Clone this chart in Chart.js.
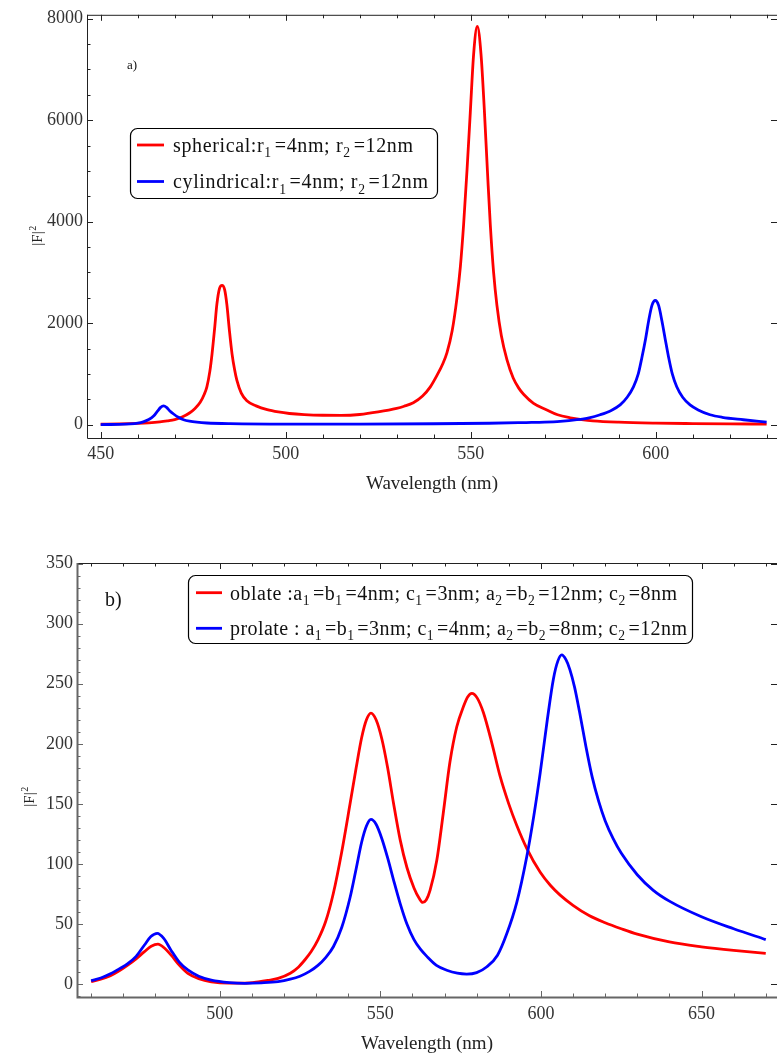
<!DOCTYPE html>
<html>
<head>
<meta charset="utf-8">
<script src="https://cdn.jsdelivr.net/npm/chart.js@4.4.0/dist/chart.umd.min.js"></script>
<style>
    html, body { margin: 0; padding: 0; background: #fff; }
    .panel { position: absolute; left: 0; width: 777px; }
    #panelA { top: 0; height: 520px; }
    #panelB { top: 520px; height: 537px; }
</style>
</head>
<body>
<div class="panel" id="panelA"><canvas id="chartA" width="777" height="520"></canvas></div>
<div class="panel" id="panelB"><canvas id="chartB" width="777" height="537"></canvas></div>
<script>
// ---- panel a) ----
const topXTicks = [450, 500, 550, 600];
const topYTicks = [0, 2000, 4000, 6000, 8000];
const topLabels = ['spherical:r₁=4nm; r₂=12nm', 'cylindrical:r₁=4nm; r₂=12nm'];

const sphericalX = [450, 455, 460, 463, 466, 468, 470, 472, 474, 475.5, 476.9, 478, 478.7, 479.5, 480.1,
    480.8, 481.4, 482.1, 482.8, 483.5, 484.1, 484.8, 485.5, 486.2, 486.8, 488, 489.5, 492, 495, 498,
    501, 505, 510, 515, 520, 525, 530, 532, 534.5, 537, 539.1, 541, 542.5, 543.6, 545, 546.3, 547.2,
    548.1, 549, 549.9, 550.8, 551.8, 552.8, 553.7, 554.6, 555.3, 556.2, 557.1, 558.3, 559.8, 561.5,
    563, 564.3, 567, 570.6, 573.5, 576.9, 580, 583, 590, 600, 610, 620, 630];
const sphericalY = [8, 14, 25, 36, 55, 75, 100, 150, 230, 320, 440, 600, 746, 1050, 1396,
    1900, 2369, 2680, 2745, 2660, 2369, 1850, 1396, 1080, 876, 620, 470, 370, 295, 250,
    220, 198, 185, 183, 200, 250, 320, 362, 432, 565, 745, 985, 1205, 1420, 1850, 2500, 3100,
    3950, 5000, 6150, 7300, 7850, 7300, 6200, 4900, 3950, 3000, 2350, 1750, 1280, 920,
    720, 600, 420, 290, 195, 136, 100, 75, 48, 30, 21, 15, 11];

const cylindricalX = [450, 455, 458, 460, 461.5, 463, 464.3, 465.3, 466.2, 467, 467.8, 468.7, 469.7, 471,
    472.4, 474, 476, 478.7, 485, 500, 520, 540, 555, 565, 570, 574.2, 578.7, 582, 585, 588, 590.4,
    592.3, 594, 595.3, 596.3, 597.3, 598.1, 599, 599.9, 600.8, 601.7, 602.6, 603.5, 604.5, 605.7,
    607.3, 609.3, 611.5, 614.7, 618, 623.7, 630];
const cylindricalY = [2, 6, 15, 30, 55, 100, 170, 260, 340, 370, 340, 270, 210, 145,
    97, 68, 48, 33, 20, 12, 12, 18, 28, 42, 50, 65, 97, 135, 195, 280, 389,
    540, 746, 1000, 1330, 1700, 2044, 2350, 2447, 2350, 2044, 1680, 1330, 1000, 746,
    540, 389, 290, 195, 145, 97, 50];

// ---- panel b) ----
const botXTicks = [500, 550, 600, 650];
const botYTicks = [0, 50, 100, 150, 200, 250, 300, 350];
const botLabels = ['oblate :a₁=b₁=4nm; c₁=3nm; a₂=b₂=12nm; c₂=8nm', 'prolate : a₁=b₁=3nm; c₁=4nm; a₂=b₂=8nm; c₂=12nm'];

const oblateX = [460, 463, 466, 469, 471.4, 474, 476.6, 478.7, 480.8, 482.8, 484.9, 487.5, 490.1, 493.5,
    497.4, 503, 507.8, 512, 515, 518.2, 522, 524.5, 526.5, 528.5, 530.6, 533, 535.4, 538, 540.6, 542.5,
    544.2, 545.7, 547.1, 548.7, 550.5, 552.3, 554.1, 556.2, 558.3, 560.5, 562.2, 563.2, 564.3, 565.5,
    567.6, 569.6, 571.7, 573.8, 575.9, 577.2, 578.5, 580.2, 582.1, 584.7, 587.3, 590, 592.5, 595.6,
    599.8, 603, 606, 610, 615, 620, 625, 630, 640, 650, 660, 670];
const oblateY = [2, 4, 7, 11.5, 15.8, 21, 27, 31.5, 33.3, 30, 24, 15.5, 8.9, 4.5,
    1.9, 0.8, 0.8, 1.8, 3, 4.7, 9, 14, 20, 27, 36.7, 52, 75.6, 110, 150, 180,
    205, 220, 225.6, 220, 204, 180, 151, 120, 97, 80, 71, 68, 70, 78,
    103, 142, 185, 214, 231, 239, 242, 238, 226, 201, 173, 150, 132, 113,
    93, 82, 74, 65.5, 57, 51, 46, 41.5, 35, 31, 28, 25.5];

const prolateX = [460, 463, 466, 469, 471.4, 474, 476.6, 478.6, 480.6, 482.6, 484.9, 487.5, 490.1, 493.5,
    497.4, 503, 507.8, 513, 518.2, 522, 525, 528, 530.6, 533, 535.4, 538, 540.6, 542.5, 544.2, 545.7,
    547.1, 548.7, 550.5, 552.3, 554.1, 556.2, 558.3, 560.5, 562.5, 564.5, 567.5, 570.7, 574, 576.9, 580,
    583.2, 586.5, 589.4, 592.5, 595.6, 597.8, 599.8, 602, 603.9, 605.3, 606.5, 607.8, 609, 610.5, 612,
    614, 616, 618, 620, 622.5, 625, 630, 635, 640, 650, 660, 670];
const prolateY = [2.8, 5, 8.5, 13, 17, 23, 32.5, 39.5, 42.2, 38, 28, 18, 11.7, 6.5,
    3.3, 1.2, 0.6, 1, 2, 4, 6.5, 10.5, 15.5, 22, 31, 47, 72, 96, 118, 131.5,
    137, 133, 121, 105, 87, 67, 50, 37, 29, 23, 15.5, 11.5, 9, 8.3, 9.5,
    14.4, 24, 42, 68, 106, 140, 176, 220, 254, 269, 274, 270, 262, 247, 227,
    198, 172, 152, 136, 121, 109, 91, 78, 69, 56, 46, 37];

const SERIF = '"Liberation Serif", "Times New Roman", serif';
const SUBS = '₀₁₂₃₄₅₆₇₈₉';
const pts = (xs, ys) => xs.map((x, i) => ({ x, y: ys[i] }));

// text with subscript digits, stretched to a target width like the Mathematica output
function drawRich(ctx, text, x, y, size, width) {
    const parts = [...text].map(ch => {
        const i = SUBS.indexOf(ch);
        return i >= 0 ? { ch: String(i), sub: true } : { ch, sub: false };
    });
    const fontOf = p => (p.sub ? size * 0.68 : size) + 'px ' + SERIF;
    const widths = parts.map(p => {
        ctx.font = fontOf(p);
        return ctx.measureText(p.ch).width + (p.sub ? size * 0.15 : 0);
    });
    const natural = widths.reduce((a, b) => a + b, 0);
    const extra = width ? (width - natural) / (parts.length - 1) : 0;
    ctx.textAlign = 'left';
    ctx.textBaseline = 'alphabetic';
    let cx = x;
    parts.forEach((p, i) => {
        ctx.font = fontOf(p);
        ctx.fillText(p.ch, cx, p.sub ? y + size * 0.26 : y);
        cx += widths[i] + extra;
    });
}

// frame with inward major / minor ticks on all sides
const framePlugin = {
    id: 'frame',
    afterDatasetsDraw(chart, args, o) {
        const { ctx, chartArea: a, scales: { x, y } } = chart;
        const isMajor = (v, step) => Math.abs(v / step - Math.round(v / step)) < 1e-6;
        ctx.save();
        // top frame line
        ctx.strokeStyle = o.topColor;
        ctx.lineWidth = 1;
        ctx.beginPath();
        ctx.moveTo(a.left, a.top + 0.5);
        ctx.lineTo(a.right, a.top + 0.5);
        ctx.stroke();

        ctx.beginPath();
        for (let k = Math.ceil(x.min / o.minorX); k * o.minorX <= x.max; k++) {
            const v = k * o.minorX;
            const px = Math.round(x.getPixelForValue(v)) + 0.5;
            const len = isMajor(v, o.majorX) ? 6 : 3.5;
            ctx.moveTo(px, a.top);
            ctx.lineTo(px, a.top + len);
        }
        for (let k = Math.ceil(y.min / o.minorY); k * o.minorY <= y.max; k++) {
            const v = k * o.minorY;
            if (!isMajor(v, o.majorY)) continue;
            const py = Math.round(y.getPixelForValue(v)) + 0.5;
            ctx.moveTo(a.right, py);
            ctx.lineTo(a.right - 6, py);
        }
        ctx.stroke();

        // left and bottom axes
        ctx.strokeStyle = o.axisColor;
        ctx.lineWidth = o.axisWidth;
        ctx.beginPath();
        ctx.moveTo(a.left + 0.5, a.top);
        ctx.lineTo(a.left + 0.5, a.bottom + 0.5);
        ctx.lineTo(a.right, a.bottom + 0.5);
        ctx.stroke();

        ctx.lineWidth = 1;
        ctx.beginPath();
        for (let k = Math.ceil(x.min / o.minorX); k * o.minorX <= x.max; k++) {
            const v = k * o.minorX;
            const px = Math.round(x.getPixelForValue(v)) + 0.5;
            const len = isMajor(v, o.majorX) ? 6 : 3.5;
            ctx.moveTo(px, a.bottom);
            ctx.lineTo(px, a.bottom - len);
        }
        for (let k = Math.ceil(y.min / o.minorY); k * o.minorY <= y.max; k++) {
            const v = k * o.minorY;
            const py = Math.round(y.getPixelForValue(v)) + 0.5;
            const len = isMajor(v, o.majorY) ? 6 : 3.5;
            ctx.moveTo(a.left, py);
            ctx.lineTo(a.left + len, py);
        }
        ctx.stroke();
        ctx.restore();
    }
};

// legend box, panel tag and axis titles
const decorPlugin = {
    id: 'decor',
    afterDraw(chart, args, o) {
        const { ctx, chartArea: a } = chart;
        ctx.save();
        ctx.fillStyle = '#111';

        // panel tag
        ctx.font = o.tag.size + 'px ' + SERIF;
        ctx.textAlign = 'left';
        ctx.textBaseline = 'middle';
        ctx.fillText(o.tag.text, o.tag.x, o.tag.y);

        // legend
        const L = o.legend;
        ctx.fillStyle = '#fff';
        ctx.strokeStyle = '#000';
        ctx.lineWidth = 1.2;
        ctx.beginPath();
        ctx.roundRect(L.x + 0.5, L.y + 0.5, L.w, L.h, 7);
        ctx.fill();
        ctx.stroke();
        chart.data.datasets.forEach((ds, i) => {
            const ry = L.rows[i];
            ctx.strokeStyle = ds.borderColor;
            ctx.lineWidth = 2.8;
            ctx.beginPath();
            ctx.moveTo(L.lineX[0], ry);
            ctx.lineTo(L.lineX[1], ry);
            ctx.stroke();
            ctx.fillStyle = '#111';
            drawRich(ctx, ds.label, L.textX, ry + L.size * 0.34, L.size, L.widths[i]);
        });

        // x title
        ctx.fillStyle = '#222';
        ctx.font = '19px ' + SERIF;
        ctx.textAlign = 'center';
        ctx.textBaseline = 'middle';
        ctx.fillText('Wavelength (nm)', (a.left + a.right) / 2, o.xTitleY);

        // y title |F|^2
        ctx.translate(o.yTitle.x, o.yTitle.y);
        ctx.rotate(-Math.PI / 2);
        ctx.font = '15px ' + SERIF;
        ctx.textAlign = 'left';
        ctx.textBaseline = 'middle';
        const w = ctx.measureText('|F|').width;
        ctx.fillText('|F|', -(w + 5) / 2, 0);
        ctx.font = '10px ' + SERIF;
        ctx.fillText('2', -(w + 5) / 2 + w + 0.5, -5);
        ctx.restore();
    }
};

function makePanel(id, p) {
    const tickFont = { family: SERIF, size: 18 };
    return new Chart(document.getElementById(id), {
        type: 'line',
        data: {
            datasets: p.series.map((s, i) => ({
                label: s.label,
                data: pts(s.x, s.y),
                borderColor: s.color,
                borderWidth: 2.8,
                pointRadius: 0,
                fill: false,
                cubicInterpolationMode: 'monotone',
                order: 2 - i,
            })),
        },
        options: {
            responsive: false,
            animation: false,
            events: [],
            layout: { autoPadding: false, padding: { top: p.top, left: 0, right: 0, bottom: 0 } },
            plugins: {
                legend: { display: false },
                tooltip: { enabled: false },
                frame: p.frame,
                decor: p.decor,
            },
            scales: {
                x: {
                    type: 'linear',
                    min: p.xRange[0],
                    max: p.xRange[1],
                    afterFit: s => { s.height = p.xAxisH; },
                    afterBuildTicks: s => { s.ticks = p.xTicks.map(v => ({ value: v })); },
                    grid: { display: false, drawTicks: false },
                    border: { display: false },
                    ticks: { padding: p.xPad, font: tickFont, color: '#333', maxRotation: 0, callback: v => String(v) },
                },
                y: {
                    type: 'linear',
                    min: p.yRange[0],
                    max: p.yRange[1],
                    afterFit: s => { s.width = p.yAxisW; },
                    afterBuildTicks: s => { s.ticks = p.yTicks.map(v => ({ value: v })); },
                    grid: { display: false, drawTicks: false },
                    border: { display: false },
                    ticks: { padding: 4, font: tickFont, color: '#333', callback: v => String(v) },
                },
            },
        },
        plugins: [framePlugin, decorPlugin],
    });
}

makePanel('chartA', {
    series: [
        { label: topLabels[0], x: sphericalX, y: sphericalY, color: '#ff0000' },
        { label: topLabels[1], x: cylindricalX, y: cylindricalY, color: '#0000ff' },
    ],
    xTicks: topXTicks,
    yTicks: topYTicks,
    xRange: [446.3, 632.8],
    yRange: [-263, 8078],
    top: 10,
    xAxisH: 82,
    yAxisW: 87,
    xPad: 5,
    frame: { minorX: 10, majorX: 50, minorY: 500, majorY: 2000, axisColor: '#222', axisWidth: 1, topColor: '#222' },
    decor: {
        tag: { text: 'a)', x: 127, y: 66, size: 13 },
        legend: { x: 130, y: 128, w: 307, h: 70, rows: [145, 181.5], lineX: [137, 164], textX: 173, size: 20, widths: [240, 255] },
        xTitleY: 484,
        yTitle: { x: 38, y: 236 },
    },
});

makePanel('chartB', {
    series: [
        { label: botLabels[0], x: oblateX, y: oblateY, color: '#ff0000' },
        { label: botLabels[1], x: prolateX, y: prolateY, color: '#0000ff' },
    ],
    xTicks: botXTicks,
    yTicks: botYTicks,
    xRange: [455.6, 673.5],
    yRange: [-10.8, 350.5],
    top: 43,
    xAxisH: 60,
    yAxisW: 77,
    xPad: 6,
    frame: { minorX: 10, majorX: 50, minorY: 10, majorY: 50, axisColor: '#666', axisWidth: 2, topColor: '#222' },
    decor: {
        tag: { text: 'b)', x: 105, y: 81, size: 20 },
        legend: { x: 188, y: 55, w: 504, h: 68, rows: [72.7, 108.3], lineX: [196, 222], textX: 230, size: 20, widths: [447, 457] },
        xTitleY: 524,
        yTitle: { x: 30, y: 277 },
    },
});
</script>
</body>
</html>
